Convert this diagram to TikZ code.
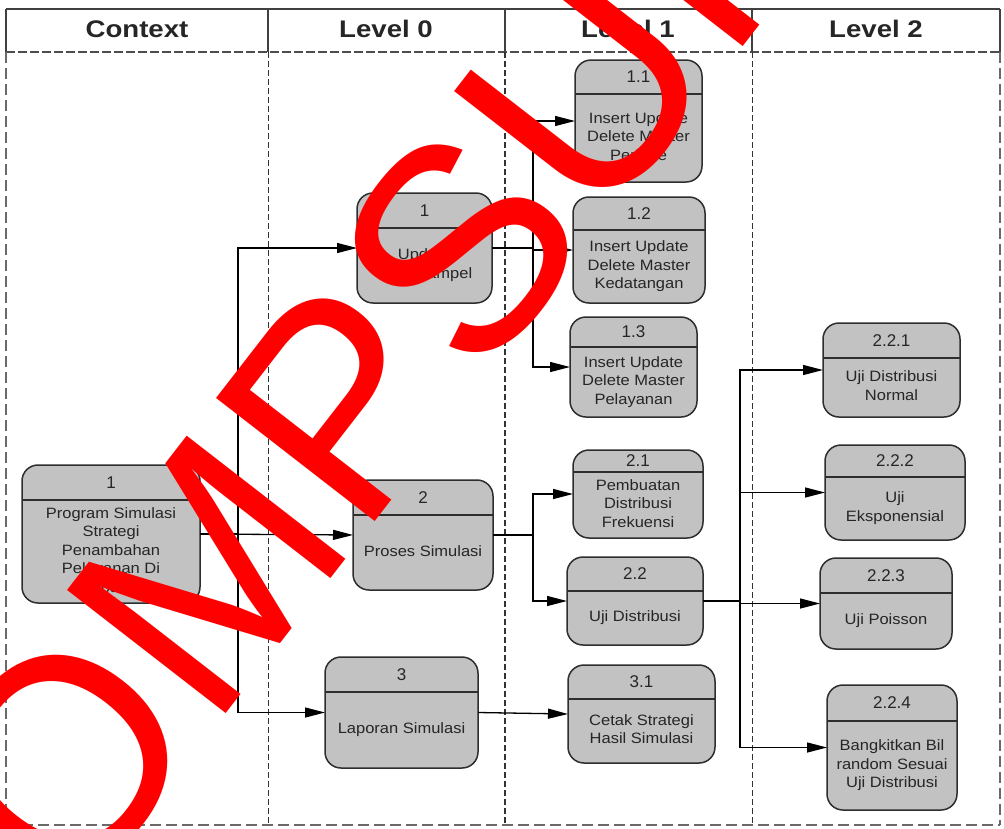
\documentclass[tikz,border=0pt]{standalone}
\usepackage{fontspec}
\setmainfont{Liberation Sans}
\usetikzlibrary{arrows.meta}
\definecolor{procfill}{HTML}{C2C2C2}
\definecolor{procedge}{HTML}{2E2E2E}
\definecolor{proctext}{HTML}{262626}
\definecolor{lanegray}{HTML}{6A6A6A}
\definecolor{stamp}{HTML}{FF0000}

% centred multi-line label, slightly widened
\newcommand{\stackl}[1]{\scalebox{1.1}[1]{\begin{tabular}{@{}c@{}}#1\end{tabular}}}
\newcommand{\headl}[1]{\scalebox{1.15}[1]{#1}}

% process box: name, left, top, right, bottom, divider y, number, label
\newcommand{\proc}[8]{%
  \node[procbox, minimum width={#4-#2}, minimum height={#5-#3}] (#1) at ({(#2+#4)/2},{(#3+#5)/2}) {};
  \draw[procedge, line width=1.4pt] (#2,#6) -- (#4,#6);
  \node[numtext] (#1-num) at ({(#2+#4)/2},{(#3+#6)/2}) {#7};
  \node[labeltext] (#1-txt) at ({(#2+#4)/2},{(#6+#5)/2}) {\stackl{#8}};
}

\begin{document}
\begin{tikzpicture}[x=1pt,y=-1pt,
  procbox/.style={draw=procedge, fill=procfill, line width=1.5pt, rounded corners=16pt, inner sep=0pt, outer sep=0pt},
  numtext/.style={text=proctext, font=\fontsize{17}{17}\selectfont, inner sep=0pt},
  labeltext/.style={text=proctext, font=\fontsize{15}{18.5}\selectfont, inner sep=0pt},
  headtext/.style={text=black!85, font=\bfseries\fontsize{24}{24}\selectfont, inner sep=0pt},
  wire/.style={draw=black, line width=1.3pt},
  flow/.style={wire, -{Triangle[length=20pt,width=10pt]}},
  laneedge/.style={draw=lanegray, line width=2.6pt, dash pattern=on 11pt off 5pt},
  lanesep/.style={draw=black!80, line width=0.9pt, dash pattern=on 6pt off 3pt},
  stamptext/.style={text=stamp, font=\fontsize{292}{292}\selectfont, inner sep=0pt}
]
\useasboundingbox (0,0) rectangle (1004,828);
\clip (0,0) rectangle (1004,828);
\fill[white] (0,0) rectangle (1004,828);

% swimlane frame
\draw[draw=black!75, line width=2pt] (6,9) -- (1000,9);
\foreach \xx in {6,268,505,752,1000}
  \draw[draw=black!75, line width=1.4pt] (\xx,9) -- (\xx,52);
\draw[draw=black!70, line width=1.6pt, dash pattern=on 9pt off 3pt] (6,52) -- (1000,52);
\draw[laneedge] (6,52) -- (6,825);
\draw[laneedge] (1000,52) -- (1000,825);
\draw[laneedge] (6,825) -- (1000,825);
\draw[lanesep] (268,52) -- (268,825);
\draw[lanesep, line width=1.4pt] (505,52) -- (505,825);
\draw[lanesep] (752,52) -- (752,825);

\node[headtext] (hctx) at (137,29) {\headl{Context}};
\node[headtext] (hl0) at (386,29) {\headl{Level 0}};
\node[headtext] (hl1) at (628,29) {\headl{Level 1}};
\node[headtext] (hl2) at (876,29) {\headl{Level 2}};

% context
\proc{c1}{22}{465}{200}{603}{500}{1}{Program Simulasi\\Strategi\\Penambahan\\Pelayanan Di\\Dibank}

% level 0
\proc{p1}{357}{193}{492}{303}{228}{1}{Update\\Data Sampel}
\proc{p2}{353}{480}{493}{590}{515}{2}{Proses Simulasi}
\proc{p3}{325}{657}{478}{768}{692}{3}{Laporan Simulasi}

% level 1
\proc{q11}{575}{60}{702}{182}{94}{1.1}{Insert Update\\Delete Master\\Periode}
\proc{q12}{573}{197}{705}{303}{230}{1.2}{Insert Update\\Delete Master\\Kedatangan}
\proc{q13}{570}{317}{697}{417}{347}{1.3}{Insert Update\\Delete Master\\Pelayanan}
\proc{q21}{573}{450}{703}{538}{472}{2.1}{Pembuatan\\Distribusi\\Frekuensi}
\proc{q22}{567}{557}{703}{645}{591}{2.2}{Uji Distribusi}
\proc{q31}{568}{665}{715}{763}{699}{3.1}{Cetak Strategi\\Hasil Simulasi}

% level 2
\proc{r1}{823}{323}{960}{417}{358}{2.2.1}{Uji Distribusi\\Normal}
\proc{r2}{825}{445}{965}{540}{477}{2.2.2}{Uji\\Eksponensial}
\proc{r3}{820}{558}{952}{649}{593}{2.2.3}{Uji Poisson}
\proc{r4}{827}{685}{957}{810}{721}{2.2.4}{Bangkitkan Bil\\random Sesuai\\Uji Distribusi}

% branching columns
\coordinate (ta) at (238,0);
\coordinate (tb) at (533,0);
\coordinate (tc) at (740,0);

% context -> level 0
\draw[flow] (c1.east) -- (p2.west);
\draw[flow] (c1.east) -- (ta |- c1.east) |- (p1.west);
\draw[flow] (c1.east) -- (ta |- c1.east) |- (p3.west);

% level 0 -> level 1
\draw[flow] (p1.east) -- (tb |- p1.east) |- (q11.west);
\draw[flow] (p1.east) -- (tb |- p1.east) |- (q12.west);
\draw[flow] (p1.east) -- (tb |- p1.east) |- (q13.west);
\draw[flow] (p2.east) -- (tb |- p2.east) |- (q21.west);
\draw[flow] (p2.east) -- (tb |- p2.east) |- (q22.west);
\draw[flow] (p3.east) -- (q31.west);

% level 1 -> level 2
\draw[flow] (q22.east) -- (tc |- q22.east) |- (r1.west);
\draw[flow] (q22.east) -- (tc |- q22.east) |- (r2.west);
\draw[flow] (q22.east) -- (tc |- q22.east) |- (r3.west);
\draw[flow] (q22.east) -- (tc |- q22.east) |- (r4.west);

% red stamp across the sheet
\node[stamptext, rotate=52.2, anchor=base west] (stampword) at (72,912) {OMPSUP};
\end{tikzpicture}
\end{document}
